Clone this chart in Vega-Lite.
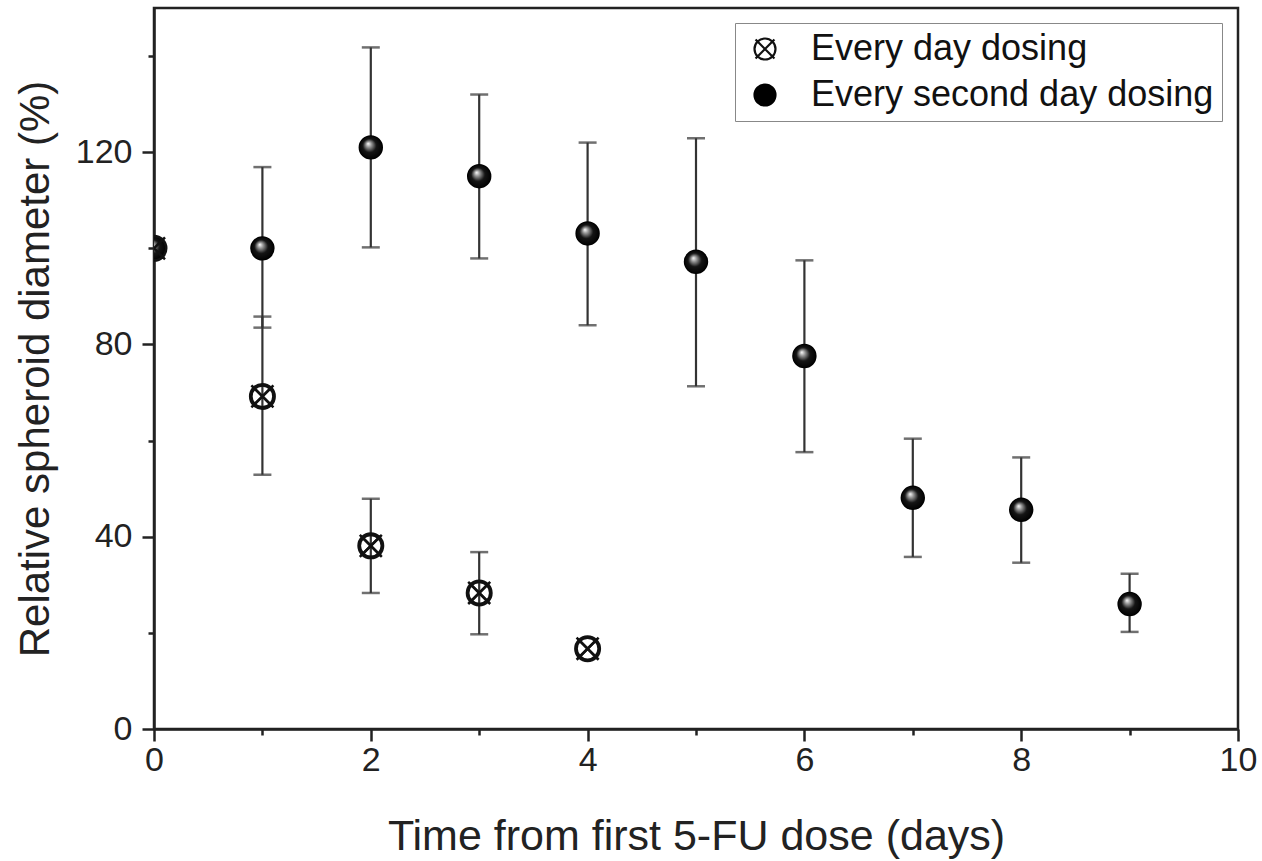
{
  "$schema": "https://vega.github.io/schema/vega-lite/v6.json",
  "autosize": "none",
  "width": 1084,
  "height": 721,
  "padding": {"left": 154, "top": 8, "right": 24, "bottom": 132},
  "background": "white",
  "config": {
    "font": "Liberation Sans",
    "view": {"stroke": "#222", "strokeWidth": 2.5},
    "axis": {
      "domainColor": "#222", "domainWidth": 2.5, "tickColor": "#222", "tickWidth": 2.5,
      "grid": false, "labelColor": "#222", "titleColor": "#222",
      "labelFont": "Liberation Sans", "titleFont": "Liberation Sans", "titleFontWeight": "normal"
    }
  },
  "data": {
    "values": [
      {"day": 0, "series": "Every second day dosing", "mean": 100, "lo": null, "hi": null},
      {"day": 1, "series": "Every second day dosing", "mean": 100, "lo": 83.5, "hi": 116.9},
      {"day": 2, "series": "Every second day dosing", "mean": 121, "lo": 100.2, "hi": 141.8},
      {"day": 3, "series": "Every second day dosing", "mean": 115, "lo": 97.9, "hi": 132},
      {"day": 4, "series": "Every second day dosing", "mean": 103.1, "lo": 84, "hi": 122},
      {"day": 5, "series": "Every second day dosing", "mean": 97.2, "lo": 71.3, "hi": 122.9},
      {"day": 6, "series": "Every second day dosing", "mean": 77.6, "lo": 57.6, "hi": 97.5},
      {"day": 7, "series": "Every second day dosing", "mean": 48.1, "lo": 35.8, "hi": 60.4},
      {"day": 8, "series": "Every second day dosing", "mean": 45.6, "lo": 34.6, "hi": 56.5},
      {"day": 9, "series": "Every second day dosing", "mean": 26, "lo": 20.2, "hi": 32.3},
      {"day": 0, "series": "Every day dosing", "mean": 100, "lo": null, "hi": null},
      {"day": 1, "series": "Every day dosing", "mean": 69.2, "lo": 52.9, "hi": 85.8},
      {"day": 2, "series": "Every day dosing", "mean": 38.1, "lo": 28.3, "hi": 47.9},
      {"day": 3, "series": "Every day dosing", "mean": 28.3, "lo": 19.7, "hi": 36.8},
      {"day": 4, "series": "Every day dosing", "mean": 16.7, "lo": null, "hi": null}
    ]
  },
  "encoding": {
    "x": {
      "field": "day", "type": "quantitative",
      "scale": {"domain": [0, 10], "nice": false, "zero": false},
      "axis": {
        "title": "Time from first 5-FU dose (days)",
        "values": [0, 1, 2, 3, 4, 5, 6, 7, 8, 9, 10],
        "labelExpr": "datum.value % 2 == 0 ? datum.label : ''",
        "tickSize": {"condition": {"test": "datum.value % 2 == 1", "value": 6}, "value": 12},
        "labelFontSize": 34, "labelPadding": 2, "titleFontSize": 43, "titlePadding": 38,
        "labelFlush": false
      }
    },
    "y": {
      "field": "mean", "type": "quantitative",
      "scale": {"domain": [0, 150], "nice": false},
      "axis": {
        "title": "Relative spheroid diameter (%)",
        "values": [0, 20, 40, 60, 80, 100, 120, 140],
        "labelExpr": "datum.value % 40 == 0 ? datum.label : ''",
        "tickSize": {"condition": {"test": "datum.value % 40 != 0", "value": 6}, "value": 12},
        "labelFontSize": 34, "labelPadding": 10, "titleFontSize": 42, "titlePadding": 18,
        "labelFlush": false
      }
    }
  },
  "layer": [
    {
      "transform": [{"filter": "datum.lo != null"}],
      "mark": {"type": "rule", "color": "#333", "strokeWidth": 2.2},
      "encoding": {"y": {"field": "lo", "type": "quantitative"}, "y2": {"field": "hi"}}
    },
    {
      "transform": [{"filter": "datum.lo != null"}],
      "mark": {"type": "tick", "orient": "horizontal", "color": "#333", "thickness": 2.5, "size": 18},
      "encoding": {"y": {"field": "lo", "type": "quantitative"}}
    },
    {
      "transform": [{"filter": "datum.lo != null"}],
      "mark": {"type": "tick", "orient": "horizontal", "color": "#333", "thickness": 2.5, "size": 18},
      "encoding": {"y": {"field": "hi", "type": "quantitative"}}
    },
    {
      "mark": {"type": "point", "clip": true, "strokeWidth": 2.5, "opacity": 1, "size": 480},
      "encoding": {
        "shape": {
          "field": "series", "type": "nominal",
          "scale": {
            "domain": ["Every day dosing", "Every second day dosing"],
            "range": ["M1,0A1,1,0,1,1,-1,0A1,1,0,1,1,1,0ZM-0.9,-0.9L0.9,0.9M-0.9,0.9L0.9,-0.9", "circle"]
          },
          "legend": {
            "title": null, "orient": "none", "legendX": 581, "legendY": 15,
            "strokeColor": "#888", "padding": 8,
            "labelFontSize": 36, "labelColor": "#111", "symbolSize": 440, "symbolStrokeWidth": 2.2,
            "rowPadding": 10, "labelOffset": 28, "symbolOffset": 4, "labelLimit": 600
          }
        },
        "fill": {
          "field": "series", "type": "nominal",
          "scale": {"domain": ["Every day dosing", "Every second day dosing"], "range": ["transparent", "#000"]}
        },
        "stroke": {
          "field": "series", "type": "nominal",
          "scale": {"domain": ["Every day dosing", "Every second day dosing"], "range": ["#111", "#000"]}
        }
      }
    },
    {
      "transform": [{"filter": "datum.series == 'Every second day dosing'"}],
      "mark": {"type": "point", "clip": true, "shape": "circle", "filled": true, "opacity": 1, "size": 500,
        "color": {"gradient": "radial", "x1": 0.38, "y1": 0.33, "r1": 0, "x2": 0.5, "y2": 0.5, "r2": 0.55,
          "stops": [{"offset": 0, "color": "#ffffff"}, {"offset": 0.22, "color": "#9a9a9a"}, {"offset": 0.55, "color": "#151515"}, {"offset": 1, "color": "#000000"}]}}
    },
    {
      "transform": [{"filter": "datum.series == 'Every day dosing'"}],
      "mark": {"type": "point", "clip": true, "filled": false, "opacity": 1, "size": 600, "strokeWidth": 2.5, "color": "#111",
        "shape": "M1,0A1,1,0,1,1,-1,0A1,1,0,1,1,1,0ZM-0.9,-0.9L0.9,0.9M-0.9,0.9L0.9,-0.9"}
    }
  ]
}
